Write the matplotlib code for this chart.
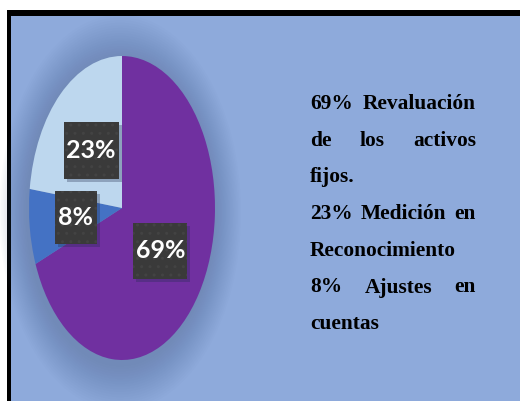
import numpy as np
import matplotlib
matplotlib.use("Agg")
import matplotlib.pyplot as plt
from matplotlib.patches import Rectangle, Ellipse
from matplotlib.transforms import ScaledTranslation

# data
labels = ["Revaluación de los activos fijos.", "Ajustes en cuentas", "Medición en Reconocimiento"]
values = [69, 8, 23]
colors = ["#7030a0", "#4472c4", "#bdd7ee"]

# legend text lines (justified / not)
text_lines = [
    ("69% Revaluación", True),
    ("de los activos", True),
    ("fijos.", False),
    ("23% Medición en", True),
    ("Reconocimiento", False),
    ("8% Ajustes en", True),
    ("cuentas", False),
]

W, H = 520, 401
fig = plt.figure(figsize=(W / 100, H / 100), dpi=100)
fig.patch.set_facecolor("white")

# background axes in pixel coordinates
bg = fig.add_axes([0, 0, 1, 1])
bg.set_xlim(0, W)
bg.set_ylim(H, 0)
bg.axis("off")
bg.add_patch(Rectangle((7, 10), W, H, facecolor="black", edgecolor="none"))
bg.add_patch(Rectangle((11, 16), W, H, facecolor="#8eaadb", edgecolor="none"))

# pie axes (stretched into ellipse)
cx, cy, a, b = 122, 208, 93, 152
ax = fig.add_axes([(cx - a) / W, (H - (cy + b)) / H, 2 * a / W, 2 * b / H])
ax.set_facecolor("none")

# soft shadow around pie
for k in range(18):
    s = 1.30 - k * 0.017
    ax.add_patch(Ellipse((-0.02, -0.03), 2 * s, 2 * s, facecolor="#4f6590",
                         alpha=0.022, edgecolor="none", zorder=0, clip_on=False))

wedges, _ = ax.pie(values, colors=colors, startangle=90, counterclock=False,
                   radius=1, wedgeprops=dict(linewidth=0))
ax.set_aspect("auto")
ax.set_xlim(-1, 1)
ax.set_ylim(-1, 1)
ax.axis("off")
for w in wedges:
    w.set_zorder(2)
    w.set_clip_on(False)

# data labels in dark boxes
box_sizes = [(54, 56), (42, 53), (55, 57)]
for w, v, (bw, bh) in zip(wedges, values, box_sizes):
    mid = np.deg2rad((w.theta1 + w.theta2) / 2)
    x, y = 0.5 * np.cos(mid), 0.5 * np.sin(mid)
    tr = fig.dpi_scale_trans + ScaledTranslation(x, y, ax.transData)
    ax.add_patch(Rectangle(((-bw / 2 + 3) / 100, (-bh / 2 - 3) / 100), bw / 100, bh / 100,
                           transform=tr, facecolor="#1f2a4a", alpha=0.3,
                           edgecolor="none", zorder=3, clip_on=False))
    ax.add_patch(Rectangle((-bw / 2 / 100, -bh / 2 / 100), bw / 100, bh / 100,
                           transform=tr, facecolor="#3a3a3a", edgecolor="#434343",
                           hatch="..", linewidth=0, zorder=4, clip_on=False))
    ax.text(x, y, f"{v}%", ha="center", va="center", color="white",
            fontsize=18, fontweight="bold",
            family=["Lato", "DejaVu Sans"], zorder=5)

# justified text block
left, right = 310, 476
base0, step = 109, 36.7
fig.canvas.draw()
renderer = fig.canvas.get_renderer()
font = dict(family="Liberation Serif", fontweight="bold", fontsize=15.4, color="black")
for i, (line, justify) in enumerate(text_lines):
    y = base0 + i * step
    words = line.split(" ")
    if justify and len(words) > 1:
        widths = []
        for wd in words:
            t = bg.text(0, 0, wd, **font)
            widths.append(t.get_window_extent(renderer).width)
            t.remove()
        gap = (right - left - sum(widths)) / (len(words) - 1)
        x = left
        for wd, wdt in zip(words, widths):
            bg.text(x, y, wd, ha="left", va="baseline", **font)
            x += wdt + gap
    else:
        bg.text(left, y, line, ha="left", va="baseline", **font)

fig.savefig("out.png", dpi=100)
